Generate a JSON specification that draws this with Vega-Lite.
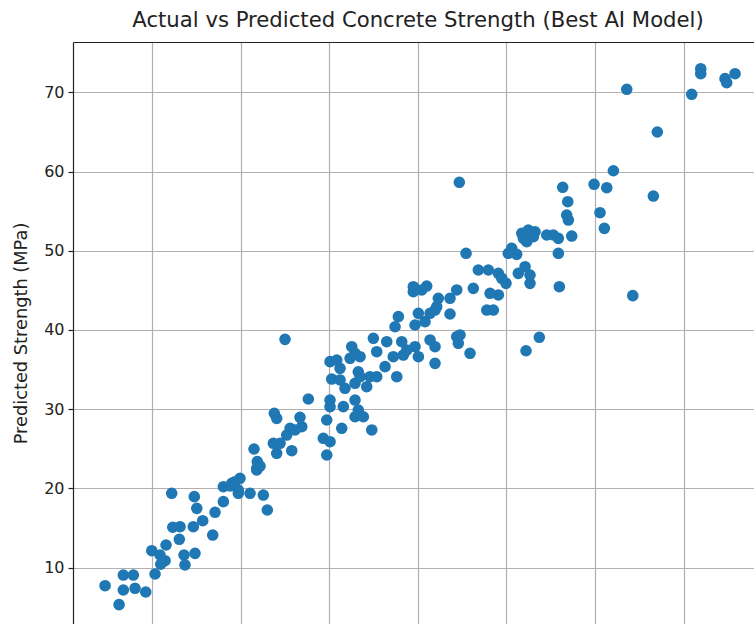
{
  "$schema": "https://vega.github.io/schema/vega-lite/v6.json",
  "autosize": {"type": "none"},
  "padding": {"left": 73, "top": 42, "right": 0, "bottom": 0},
  "width": 681,
  "height": 582,
  "background": "white",
  "config": {
    "font": "DejaVu Sans",
    "view": {"stroke": null},
    "axis": {"labelFont": "DejaVu Sans", "titleFont": "DejaVu Sans"}
  },
  "title": {
    "text": "Actual vs Predicted Concrete Strength (Best AI Model)",
    "fontSize": 21.2,
    "fontWeight": "normal",
    "color": "#222222",
    "anchor": "middle",
    "dx": 4.5,
    "offset": 11,
    "font": "DejaVu Sans"
  },
  "data": {
    "values": [
      {"actual": 4.70, "predicted": 7.72},
      {"actual": 6.28, "predicted": 5.33},
      {"actual": 6.76, "predicted": 9.07},
      {"actual": 7.89, "predicted": 9.07},
      {"actual": 6.76, "predicted": 7.18},
      {"actual": 8.08, "predicted": 7.40},
      {"actual": 9.29, "predicted": 6.93},
      {"actual": 10.34, "predicted": 9.20},
      {"actual": 9.97, "predicted": 12.14},
      {"actual": 11.58, "predicted": 12.86},
      {"actual": 10.90, "predicted": 11.60},
      {"actual": 11.47, "predicted": 10.88},
      {"actual": 10.98, "predicted": 10.43},
      {"actual": 12.22, "predicted": 19.39},
      {"actual": 12.34, "predicted": 15.10},
      {"actual": 13.16, "predicted": 15.17},
      {"actual": 13.08, "predicted": 13.58},
      {"actual": 13.61, "predicted": 11.60},
      {"actual": 13.72, "predicted": 10.34},
      {"actual": 14.85, "predicted": 11.81},
      {"actual": 14.77, "predicted": 18.96},
      {"actual": 15.05, "predicted": 17.49},
      {"actual": 14.66, "predicted": 15.17},
      {"actual": 15.72, "predicted": 15.93},
      {"actual": 16.85, "predicted": 14.12},
      {"actual": 17.11, "predicted": 16.99},
      {"actual": 18.05, "predicted": 18.33},
      {"actual": 18.05, "predicted": 20.22},
      {"actual": 19.00, "predicted": 20.65},
      {"actual": 19.93, "predicted": 21.28},
      {"actual": 21.06, "predicted": 19.39},
      {"actual": 19.74, "predicted": 19.39},
      {"actual": 21.82, "predicted": 22.33},
      {"actual": 27.64, "predicted": 31.29},
      {"actual": 23.80, "predicted": 29.48},
      {"actual": 24.07, "predicted": 28.85},
      {"actual": 26.70, "predicted": 28.98},
      {"actual": 26.90, "predicted": 27.79},
      {"actual": 25.58, "predicted": 27.59},
      {"actual": 25.20, "predicted": 26.74},
      {"actual": 26.14, "predicted": 27.38},
      {"actual": 23.69, "predicted": 25.70},
      {"actual": 24.45, "predicted": 25.70},
      {"actual": 24.07, "predicted": 24.44},
      {"actual": 25.77, "predicted": 24.76},
      {"actual": 21.51, "predicted": 24.98},
      {"actual": 21.88, "predicted": 23.38},
      {"actual": 22.19, "predicted": 22.83},
      {"actual": 21.82, "predicted": 22.54},
      {"actual": 19.37, "predicted": 20.85},
      {"actual": 18.80, "predicted": 20.31},
      {"actual": 19.74, "predicted": 19.80},
      {"actual": 22.56, "predicted": 19.17},
      {"actual": 23.01, "predicted": 17.28},
      {"actual": 29.72, "predicted": 28.64},
      {"actual": 29.33, "predicted": 26.33},
      {"actual": 30.09, "predicted": 25.90},
      {"actual": 29.72, "predicted": 24.22},
      {"actual": 25.01, "predicted": 38.82},
      {"actual": 30.09, "predicted": 36.00},
      {"actual": 30.85, "predicted": 36.21},
      {"actual": 30.28, "predicted": 33.81},
      {"actual": 31.22, "predicted": 33.69},
      {"actual": 31.22, "predicted": 35.16},
      {"actual": 32.54, "predicted": 37.89},
      {"actual": 32.91, "predicted": 37.06},
      {"actual": 32.35, "predicted": 36.43},
      {"actual": 33.48, "predicted": 36.63},
      {"actual": 33.28, "predicted": 34.73},
      {"actual": 31.78, "predicted": 32.64},
      {"actual": 32.91, "predicted": 33.27},
      {"actual": 34.23, "predicted": 32.84},
      {"actual": 33.48, "predicted": 34.10},
      {"actual": 34.60, "predicted": 34.10},
      {"actual": 35.36, "predicted": 34.10},
      {"actual": 36.30, "predicted": 35.37},
      {"actual": 37.62, "predicted": 34.10},
      {"actual": 34.98, "predicted": 38.95},
      {"actual": 36.49, "predicted": 38.52},
      {"actual": 35.36, "predicted": 37.26},
      {"actual": 37.23, "predicted": 36.63},
      {"actual": 38.18, "predicted": 38.52},
      {"actual": 38.75, "predicted": 37.47},
      {"actual": 39.68, "predicted": 37.89},
      {"actual": 40.06, "predicted": 36.63},
      {"actual": 38.36, "predicted": 36.84},
      {"actual": 37.80, "predicted": 41.68},
      {"actual": 37.43, "predicted": 40.41},
      {"actual": 40.06, "predicted": 42.11},
      {"actual": 39.68, "predicted": 40.63},
      {"actual": 40.81, "predicted": 41.05},
      {"actual": 41.38, "predicted": 38.74},
      {"actual": 41.94, "predicted": 37.89},
      {"actual": 41.94, "predicted": 35.79},
      {"actual": 42.13, "predicted": 42.94},
      {"actual": 30.09, "predicted": 31.16},
      {"actual": 30.09, "predicted": 30.32},
      {"actual": 31.59, "predicted": 30.32},
      {"actual": 32.91, "predicted": 31.16},
      {"actual": 33.28, "predicted": 29.90},
      {"actual": 32.91, "predicted": 29.05},
      {"actual": 33.85, "predicted": 29.05},
      {"actual": 34.80, "predicted": 27.38},
      {"actual": 31.41, "predicted": 27.59},
      {"actual": 45.44, "predicted": 49.68},
      {"actual": 39.49, "predicted": 45.46},
      {"actual": 39.49, "predicted": 44.83},
      {"actual": 41.00, "predicted": 45.55},
      {"actual": 40.44, "predicted": 45.05},
      {"actual": 42.31, "predicted": 44.00},
      {"actual": 41.94, "predicted": 42.52},
      {"actual": 41.38, "predicted": 42.11},
      {"actual": 43.63, "predicted": 44.00},
      {"actual": 44.39, "predicted": 45.05},
      {"actual": 43.63, "predicted": 42.02},
      {"actual": 46.26, "predicted": 45.26},
      {"actual": 46.83, "predicted": 47.57},
      {"actual": 47.96, "predicted": 47.57},
      {"actual": 49.09, "predicted": 47.15},
      {"actual": 49.47, "predicted": 46.52},
      {"actual": 49.95, "predicted": 45.89},
      {"actual": 48.15, "predicted": 44.63},
      {"actual": 49.09, "predicted": 44.42},
      {"actual": 47.78, "predicted": 42.52},
      {"actual": 48.52, "predicted": 42.52},
      {"actual": 50.60, "predicted": 50.31},
      {"actual": 50.21, "predicted": 49.68},
      {"actual": 51.16, "predicted": 49.55},
      {"actual": 51.34, "predicted": 47.15},
      {"actual": 52.10, "predicted": 47.99},
      {"actual": 52.66, "predicted": 46.94},
      {"actual": 52.66, "predicted": 45.89},
      {"actual": 51.73, "predicted": 52.20},
      {"actual": 53.23, "predicted": 52.40},
      {"actual": 52.47, "predicted": 52.62},
      {"actual": 54.55, "predicted": 51.99},
      {"actual": 55.29, "predicted": 51.99},
      {"actual": 55.86, "predicted": 51.57},
      {"actual": 52.29, "predicted": 51.14},
      {"actual": 53.04, "predicted": 51.77},
      {"actual": 51.91, "predicted": 51.57},
      {"actual": 44.39, "predicted": 39.15},
      {"actual": 44.76, "predicted": 39.37},
      {"actual": 44.57, "predicted": 38.32},
      {"actual": 45.89, "predicted": 37.06},
      {"actual": 53.71, "predicted": 39.08},
      {"actual": 52.21, "predicted": 37.38},
      {"actual": 44.68, "predicted": 58.64},
      {"actual": 56.35, "predicted": 58.01},
      {"actual": 59.89, "predicted": 58.39},
      {"actual": 61.32, "predicted": 57.96},
      {"actual": 62.07, "predicted": 60.10},
      {"actual": 56.92, "predicted": 56.19},
      {"actual": 56.80, "predicted": 54.51},
      {"actual": 56.99, "predicted": 53.88},
      {"actual": 60.56, "predicted": 54.80},
      {"actual": 61.05, "predicted": 52.83},
      {"actual": 57.37, "predicted": 51.86},
      {"actual": 55.86, "predicted": 49.68},
      {"actual": 55.97, "predicted": 45.46},
      {"actual": 64.26, "predicted": 44.33},
      {"actual": 63.58, "predicted": 70.38},
      {"actual": 70.91, "predicted": 69.75},
      {"actual": 71.93, "predicted": 72.98},
      {"actual": 71.93, "predicted": 72.35},
      {"actual": 74.67, "predicted": 71.72},
      {"actual": 74.86, "predicted": 71.21},
      {"actual": 75.80, "predicted": 72.35},
      {"actual": 67.03, "predicted": 64.99},
      {"actual": 66.58, "predicted": 56.91}
    ]
  },
  "mark": {"type": "point", "filled": true, "opacity": 1, "size": 135, "color": "#1f77b4", "shape": "circle"},
  "encoding": {
    "x": {
      "field": "actual",
      "type": "quantitative",
      "scale": {"domain": [1.08, 77.94], "nice": false, "zero": false},
      "axis": {
        "orient": "top",
        "title": null,
        "labels": false,
        "ticks": false,
        "domain": true,
        "domainColor": "#222222",
        "domainWidth": 1.2,
        "grid": true,
        "gridColor": "#b0b0b0",
        "gridWidth": 1.2,
        "values": [10, 20, 30, 40, 50, 60, 70]
      }
    },
    "y": {
      "field": "predicted",
      "type": "quantitative",
      "scale": {"domain": [2.89, 76.35], "nice": false, "zero": false},
      "axis": {
        "orient": "left",
        "title": "Predicted Strength (MPa)",
        "titleFontSize": 17.8,
        "titleFontWeight": "normal",
        "titleColor": "#222222",
        "titlePadding": 13,
        "labelFontSize": 16,
        "labelColor": "#222222",
        "labelPadding": 4,
        "tickSize": 5,
        "tickColor": "#222222",
        "tickWidth": 1.2,
        "domain": true,
        "domainColor": "#222222",
        "domainWidth": 1.2,
        "grid": true,
        "gridColor": "#b0b0b0",
        "gridWidth": 1.2,
        "values": [10, 20, 30, 40, 50, 60, 70]
      }
    }
  }
}
